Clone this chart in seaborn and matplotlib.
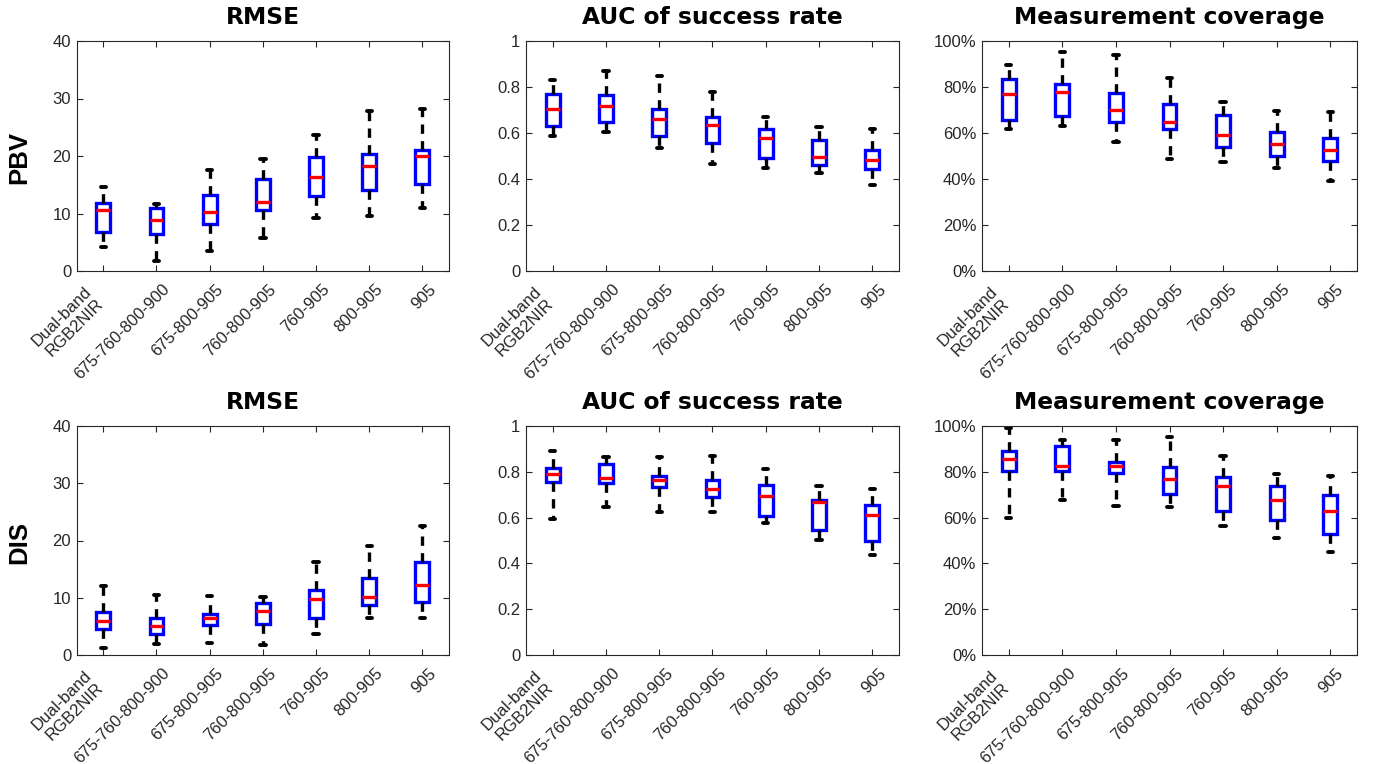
import numpy as np
import pandas as pd
import matplotlib
matplotlib.use("Agg")
import matplotlib.pyplot as plt
from matplotlib.ticker import FuncFormatter
from matplotlib.transforms import ScaledTranslation, blended_transform_factory
import seaborn as sns

# ---------------- data ----------------
categories = ["Dual-band\nRGB2NIR", "675-760-800-900", "675-800-905",
              "760-800-905", "760-905", "800-905", "905"]
row_labels = ["PBV", "DIS"]
col_titles = ["RMSE", "AUC of success rate", "Measurement coverage"]

# PBV - RMSE
pbv_rmse_lo  = [4.2, 1.7, 3.4, 5.8, 9.2, 9.6, 11.0]
pbv_rmse_q1  = [6.85, 6.5, 8.2, 10.6, 13.1, 14.1, 15.1]
pbv_rmse_med = [10.6, 8.8, 10.3, 12.0, 16.4, 18.2, 20.0]
pbv_rmse_q3  = [11.9, 10.9, 13.2, 16.0, 19.9, 20.4, 21.1]
pbv_rmse_hi  = [14.6, 11.7, 17.5, 19.4, 23.7, 27.9, 28.2]

# PBV - AUC
pbv_auc_lo  = [0.588, 0.605, 0.534, 0.467, 0.450, 0.424, 0.376]
pbv_auc_q1  = [0.630, 0.646, 0.588, 0.557, 0.492, 0.460, 0.443]
pbv_auc_med = [0.704, 0.718, 0.661, 0.634, 0.578, 0.495, 0.482]
pbv_auc_q3  = [0.769, 0.765, 0.706, 0.669, 0.617, 0.569, 0.525]
pbv_auc_hi  = [0.829, 0.868, 0.850, 0.778, 0.671, 0.628, 0.617]

# PBV - coverage (%)
pbv_cov_lo  = [61.9, 62.9, 56.3, 48.9, 47.6, 45.0, 39.3]
pbv_cov_q1  = [65.5, 67.2, 64.9, 61.7, 53.7, 49.9, 47.7]
pbv_cov_med = [77.0, 77.9, 70.0, 64.9, 59.2, 55.2, 52.7]
pbv_cov_q3  = [83.4, 81.4, 77.4, 72.5, 68.0, 60.3, 57.8]
pbv_cov_hi  = [89.7, 95.1, 93.9, 83.7, 73.5, 69.7, 69.0]

# DIS - RMSE
dis_rmse_lo  = [1.3, 1.9, 2.1, 1.8, 3.7, 6.4, 6.5]
dis_rmse_q1  = [4.5, 3.6, 5.2, 5.4, 6.5, 8.7, 9.2]
dis_rmse_med = [6.0, 5.1, 6.5, 7.7, 9.7, 10.1, 12.3]
dis_rmse_q3  = [7.5, 6.5, 7.2, 9.0, 11.3, 13.4, 16.3]
dis_rmse_hi  = [12.1, 10.4, 10.3, 10.2, 16.2, 19.1, 22.6]

# DIS - AUC
dis_auc_lo  = [0.596, 0.648, 0.626, 0.623, 0.576, 0.502, 0.437]
dis_auc_q1  = [0.756, 0.751, 0.735, 0.691, 0.606, 0.544, 0.496]
dis_auc_med = [0.790, 0.773, 0.766, 0.725, 0.693, 0.668, 0.610]
dis_auc_q3  = [0.817, 0.834, 0.780, 0.764, 0.741, 0.678, 0.654]
dis_auc_hi  = [0.892, 0.866, 0.863, 0.870, 0.811, 0.739, 0.726]

# DIS - coverage (%)
dis_cov_lo  = [59.8, 67.5, 65.2, 64.5, 56.3, 50.9, 44.8]
dis_cov_q1  = [80.3, 80.5, 79.5, 70.3, 63.0, 58.8, 53.0]
dis_cov_med = [85.4, 82.4, 82.5, 76.7, 73.7, 67.5, 62.9]
dis_cov_q3  = [89.1, 91.3, 84.4, 81.9, 77.9, 73.7, 69.7]
dis_cov_hi  = [99.0, 94.0, 94.0, 95.3, 86.8, 78.9, 78.2]

panels = [
    [(pbv_rmse_lo, pbv_rmse_q1, pbv_rmse_med, pbv_rmse_q3, pbv_rmse_hi),
     (pbv_auc_lo, pbv_auc_q1, pbv_auc_med, pbv_auc_q3, pbv_auc_hi),
     (pbv_cov_lo, pbv_cov_q1, pbv_cov_med, pbv_cov_q3, pbv_cov_hi)],
    [(dis_rmse_lo, dis_rmse_q1, dis_rmse_med, dis_rmse_q3, dis_rmse_hi),
     (dis_auc_lo, dis_auc_q1, dis_auc_med, dis_auc_q3, dis_auc_hi),
     (dis_cov_lo, dis_cov_q1, dis_cov_med, dis_cov_q3, dis_cov_hi)],
]

ylims = [(0, 40), (0, 1), (0, 100)]
yticks = [[0, 10, 20, 30, 40], [0, 0.2, 0.4, 0.6, 0.8, 1.0],
          [0, 20, 40, 60, 80, 100]]

# ---------------- style ----------------
sns.set_theme(style="white")
plt.rcParams["font.family"] = ["Liberation Sans", "DejaVu Sans"]

W, H = 1378, 764
fig = plt.figure(figsize=(W / 100, H / 100), dpi=100)

col_lr = [(76.7, 449), (526, 899), (982, 1357)]
row_tb = [(41, 271), (426, 655)]
axis_color = "#262626"
label_fs = 12

def fmt_num(v, pos):
    if abs(v - round(v)) < 1e-9:
        return f"{int(round(v))}"
    return f"{v:g}"

for r in range(2):
    for c in range(3):
        lo, q1, med, q3, hi = panels[r][c]
        rows = []
        for i, cat in enumerate(categories):
            for v in (lo[i], q1[i], med[i], q3[i], hi[i]):
                rows.append({"cat": cat, "val": v})
        df = pd.DataFrame(rows)

        l, rr = col_lr[c]
        t, b = row_tb[r]
        ax = fig.add_axes([l / W, 1 - b / H, (rr - l) / W, (b - t) / H])

        sns.boxplot(
            data=df, x="cat", y="val", order=categories, ax=ax,
            whis=(0, 100), width=0.26, showfliers=False,
            boxprops=dict(facecolor="white", edgecolor="#0000ff", linewidth=2.4),
            medianprops=dict(color="#ff0000", linewidth=2.4),
            whiskerprops=dict(color="black", linewidth=2.4, linestyle=(0, (2.8, 2.2))),
            capprops=dict(color="black", linewidth=2.8),
            capwidths=0.1,
        )
        for p in ax.patches:
            p.set_facecolor("white")
            p.set_edgecolor("#0000ff")
            p.set_linewidth(2.4)

        ax.set_xlim(-0.5, 6.5)
        ax.set_ylim(*ylims[c])
        ax.set_yticks(yticks[c])
        if c == 2:
            ax.yaxis.set_major_formatter(FuncFormatter(lambda v, p: f"{int(round(v))}%"))
        else:
            ax.yaxis.set_major_formatter(FuncFormatter(fmt_num))
        ax.set_xlabel("")
        ax.set_ylabel("")
        ax.set_xticks(range(len(categories)))
        ax.tick_params(axis="x", labelbottom=False)
        ax.tick_params(axis="y", labelsize=label_fs, labelcolor=axis_color)
        ax.tick_params(direction="in", length=4, width=0.8, color=axis_color,
                       top=True, right=True, bottom=True, left=True, pad=4)
        for s in ax.spines.values():
            s.set_visible(True)
            s.set_color(axis_color)
            s.set_linewidth(0.8)
        ax.set_title(col_titles[c], fontsize=16.8, fontweight="bold",
                     family=["DejaVu Sans"], pad=12, color="black")

        # rotated category labels (MATLAB-like placement)
        btrans = blended_transform_factory(ax.transData, ax.transAxes)
        for i, cat in enumerate(categories):
            if "\n" in cat:
                dx, dy = -8, 24
            else:
                dx, dy = 11, 16
            off = ScaledTranslation(dx / 100, -dy / 100, fig.dpi_scale_trans)
            ax.text(i, 0, cat, transform=btrans + off, rotation=45,
                    ha="right", va="center", rotation_mode="anchor",
                    multialignment="right", fontsize=label_fs,
                    color=axis_color, linespacing=1.15)

for r, lab in enumerate(row_labels):
    t, b = row_tb[r]
    fig.text(19 / W, 1 - ((t + b) / 2 + 2) / H, lab, rotation=90, ha="center",
             va="center", fontsize=18.5, fontweight="bold", color="black")

fig.savefig("out.png", dpi=100, facecolor="white")
